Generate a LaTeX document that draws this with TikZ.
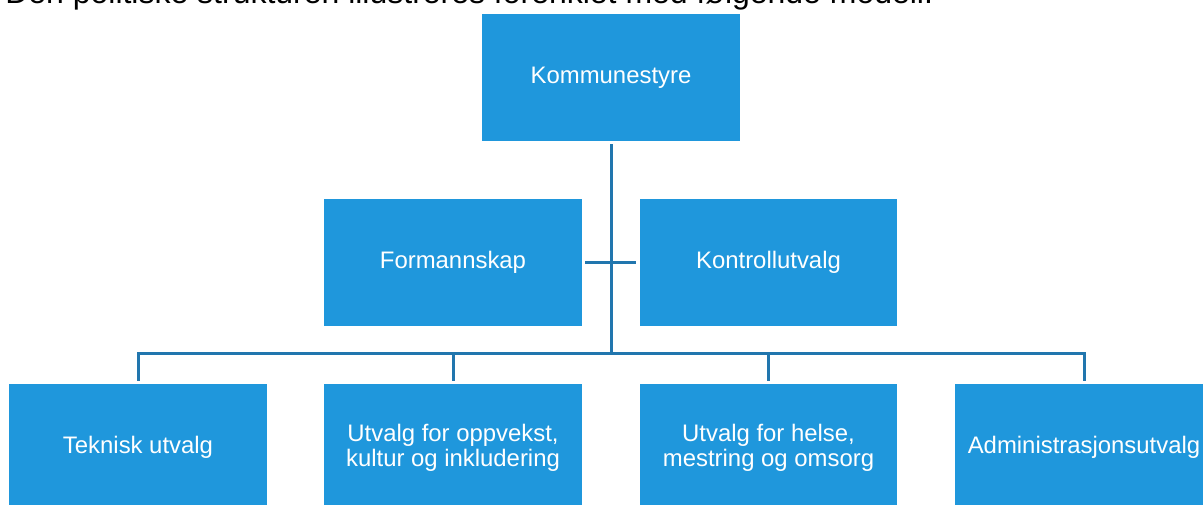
\documentclass[tikz,border=0pt]{standalone}
\usepackage{fontspec}
\setmainfont{Liberation Sans}
\definecolor{boxblue}{RGB}{31,151,220}
\definecolor{lineblue}{RGB}{33,118,174}

\begin{document}
\begin{tikzpicture}[x=0.02cm,y=-0.02cm,
    unit/.style={fill=boxblue,text=white,inner sep=0pt,
      minimum width=5.16cm,minimum height=2.54cm,align=center,
      font=\fontsize{13.6}{14.4}\selectfont},
    link/.style={draw=lineblue,line width=0.06cm,shorten <=0.06cm,shorten >=0.06cm}]
  \useasboundingbox (0,0) rectangle (1203,504);
  \clip (0,0) rectangle (1203,504);
  \node[anchor=base west,inner sep=0pt,font=\fontsize{18.2}{20}\selectfont] (intro) at (5,3)
    {Den politiske strukturen illustreres forenklet med følgende modell:};
  % toppnivaa
  \node[unit] (kommunestyre) at (611,77.5) {Kommunestyre};
  % midtre nivaa
  \node[unit] (formannskap) at (453,262.5) {Formannskap};
  \node[unit] (kontroll) at (768.5,262.5) {Kontrollutvalg};
  % utvalg
  \node[unit] (teknisk) at (138,447.5) {Teknisk utvalg};
  \node[unit] (oppvekst) at (453,447.5) {Utvalg for oppvekst,\\kultur og inkludering};
  \node[unit] (helse) at (768.5,447.5) {Utvalg for helse,\\mestring og omsorg};
  \node[unit] (admin) at (1084,447.5) {Administrasjonsutvalg};
  \coordinate (bus) at (611,353);
  \draw[link,shorten >=0pt] (kommunestyre) -- (bus);
  \draw[link] (formannskap) -- (kontroll);
  \foreach \n in {teknisk,oppvekst,helse,admin}
    \draw[link,shorten >=0pt] (\n.north) |- (bus);
\end{tikzpicture}
\end{document}
